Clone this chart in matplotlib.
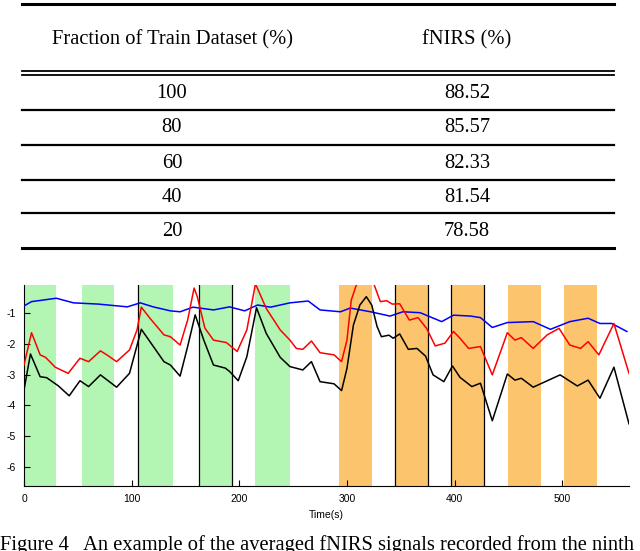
import matplotlib.pyplot as plt
from matplotlib.lines import Line2D

# table data
fractions = ["100", "80", "60", "40", "20"]
fnirs_acc = ["88.52", "85.57", "82.33", "81.54", "78.58"]
col_headers = ["Fraction of Train Dataset (%)", "fNIRS (%)"]

# stimulus blocks (s)
green_blocks = [(0, 30), (54, 84), (107, 138), (163, 193), (215, 247)]
orange_blocks = [(293, 323), (345, 375), (397, 427), (450, 480), (502, 532)]
marker_lines = [106, 163, 193, 345, 375, 397, 427]

# signals
blue_t = [0, 7, 30, 46, 69, 96, 108, 120, 136, 145, 157, 176, 191, 205, 217, 229,
          247, 264, 275, 294, 303, 322, 340, 352, 368, 388, 399, 415, 424, 435,
          449, 473, 489, 507, 524, 535, 546, 560]
blue_v = [-0.77, -0.63, -0.52, -0.67, -0.71, -0.80, -0.67, -0.80, -0.93, -0.96,
          -0.81, -0.90, -0.80, -0.93, -0.74, -0.81, -0.67, -0.61, -0.90, -0.96,
          -0.84, -0.96, -1.10, -0.96, -0.99, -1.28, -1.07, -1.10, -1.15, -1.47,
          -1.31, -1.28, -1.53, -1.28, -1.17, -1.34, -1.34, -1.60]

red_t = [0, 7, 15, 20, 29, 41, 52, 60, 71, 77, 86, 98, 105, 109, 117, 130, 136,
         145, 152, 158, 161, 168, 176, 188, 198, 207, 215, 225, 238, 247, 253,
         259, 267, 275, 288, 295, 300, 304, 309, 316, 325, 331, 337, 342, 349,
         358, 366, 374, 382, 391, 399, 405, 413, 424, 435, 449, 456, 462, 473,
         486, 497, 507, 517, 524, 534, 548, 562]
red_v = [-2.69, -1.64, -2.36, -2.44, -2.76, -2.96, -2.47, -2.58, -2.23, -2.36,
         -2.58, -2.20, -1.55, -0.81, -1.17, -1.71, -1.77, -2.04, -1.23, -0.19,
         -0.47, -1.49, -1.88, -1.96, -2.25, -1.55, -0.05, -0.85, -1.55, -1.88,
         -2.15, -2.18, -1.91, -2.29, -2.36, -2.58, -1.88, -0.58, -0.06, 0.40,
         -0.06, -0.63, -0.60, -0.71, -0.70, -1.23, -1.15, -1.50, -2.07, -1.98,
         -1.60, -1.82, -2.15, -2.09, -3.01, -1.64, -1.88, -1.80, -2.15, -1.71,
         -1.50, -2.04, -2.15, -1.93, -2.36, -1.34, -2.96]

black_t = [0, 6, 15, 21, 32, 42, 52, 60, 71, 86, 98, 109, 117, 130, 136, 145,
           152, 159, 167, 176, 187, 191, 199, 207, 216, 225, 238, 247, 259, 267,
           275, 288, 295, 300, 306, 312, 318, 323, 328, 332, 339, 343, 349, 357,
           365, 373, 380, 390, 398, 405, 416, 424, 435, 449, 456, 462, 473, 498,
           514, 524, 535, 548, 562]
black_v = [-3.50, -2.33, -3.07, -3.10, -3.37, -3.69, -3.20, -3.39, -3.01, -3.41,
           -2.96, -1.53, -1.93, -2.58, -2.69, -3.05, -2.09, -1.06, -1.88, -2.69,
           -2.79, -2.90, -3.20, -2.42, -0.83, -1.66, -2.44, -2.74, -2.85, -2.58,
           -3.23, -3.30, -3.52, -2.80, -1.39, -0.74, -0.47, -0.74, -1.44, -1.77,
           -1.72, -1.82, -1.68, -2.18, -2.15, -2.40, -3.01, -3.23, -2.72, -3.09,
           -3.39, -3.28, -4.50, -2.98, -3.18, -3.12, -3.41, -3.01, -3.37, -3.18,
           -3.77, -2.76, -4.60]

W, H = 640, 551
fig = plt.figure(figsize=(W / 100, H / 100), dpi=100)


def fy(py):
    return 1 - py / H


def hline(py, lw=1.8, x0=22, x1=614):
    fig.add_artist(Line2D([x0 / W, x1 / W], [fy(py), fy(py)], color="black",
                          lw=lw, transform=fig.transFigure))


serif = "Liberation Serif"
col_x = [172, 467]
fs = 14.8

# table
hline(4, 2.2)
for cx, head in zip(col_x, col_headers):
    fig.text(cx / W, fy(40), head, family=serif, fontsize=fs,
             ha="center", va="center")
hline(71, 1.3)
hline(75, 1.3)
row_y = [93, 128, 163, 197, 231]
for ry, frac, acc in zip(row_y, fractions, fnirs_acc):
    fig.text(col_x[0] / W, fy(ry), frac, family=serif, fontsize=fs,
             ha="center", va="center")
    fig.text(col_x[1] / W, fy(ry), acc, family=serif, fontsize=fs,
             ha="center", va="center")
for ly in [110, 145, 180, 213]:
    hline(ly, 1.6)
hline(248, 2.2)

# signal plot
ax = fig.add_axes([24 / W, fy(486), 605 / W, (486 - 285) / H])
for a, b in green_blocks:
    ax.axvspan(a, b, color="#b3f6b3", lw=0, zorder=0)
for a, b in orange_blocks:
    ax.axvspan(a, b, color="#fdc46e", lw=0, zorder=0)
for t in marker_lines:
    ax.axvline(t, color="black", lw=0.9, zorder=1)

ax.plot(blue_t, blue_v, color="#0000ff", lw=1.1, zorder=3)
ax.plot(red_t, red_v, color="#ff0000", lw=1.1, zorder=3)
ax.plot(black_t, black_v, color="black", lw=1.1, zorder=3)

ax.set_xlim(0, 562)
ax.set_ylim(-6.62, -0.09)
ax.set_xticks([0, 100, 200, 300, 400, 500])
ax.set_yticks([-6, -5, -4, -3, -2, -1])
ax.set_yticklabels(["-6", "-5", "-4", "-3", "-2", "-1"])
ax.tick_params(direction="in", length=4, width=0.8, labelsize=7.5, pad=6)
for lab in ax.get_xticklabels() + ax.get_yticklabels():
    lab.set_family("Liberation Sans")
ax.spines["top"].set_visible(False)
ax.spines["right"].set_visible(False)
ax.spines["left"].set_linewidth(0.8)
ax.spines["bottom"].set_linewidth(0.8)
ax.set_xlabel("Time(s)", family="Liberation Sans", fontsize=7.5, labelpad=4)

# caption (cut off at the bottom of the page crop)
fig.text(0 / W, fy(535), "Figure 4   An example of the averaged fNIRS signals recorded from the ninth",
         family=serif, fontsize=14.8, ha="left", va="top")

fig.savefig("out.png", dpi=100)
